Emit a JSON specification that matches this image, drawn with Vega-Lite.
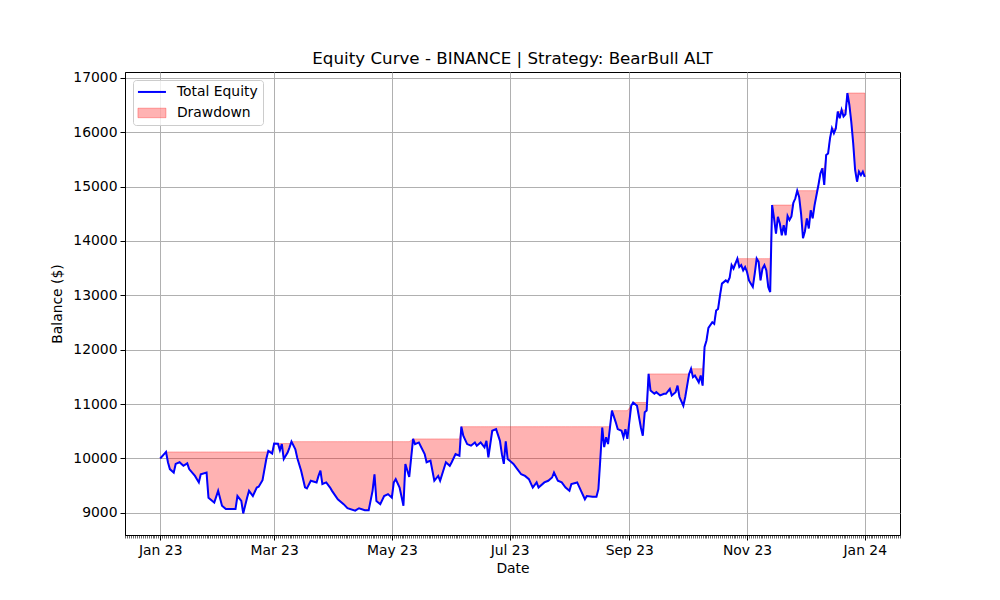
{
  "$schema": "https://vega.github.io/schema/vega-lite/v6.json",
  "width": 775, "height": 463,
  "autosize": {"type": "none"},
  "padding": {"left": 125, "top": 72, "right": 100, "bottom": 65},
  "background": "white",
  "title": {"text": "Equity Curve - BINANCE | Strategy: BearBull ALT", "font": "DejaVu Sans", "fontSize": 16.7, "fontWeight": "normal", "color": "black", "offset": 3},
  "config": {
    "view": {"stroke": "black", "strokeWidth": 1},
    "font": "DejaVu Sans",
    "axis": {
      "labelFont": "DejaVu Sans", "labelFontSize": 13.9, "labelColor": "black",
      "titleFont": "DejaVu Sans", "titleFontSize": 13.9, "titleFontWeight": "normal", "titleColor": "black",
      "tickColor": "black", "tickSize": 5, "tickWidth": 1, "domainColor": "black",
      "gridColor": "#b0b0b0", "gridWidth": 1, "gridOpacity": 1, "labelPadding": 3
    },
    "legend": {
      "orient": "top-left", "offset": 8, "padding": 5, "cornerRadius": 3,
      "strokeColor": "#cccccc", "fillColor": "rgba(255,255,255,0.8)",
      "labelFont": "DejaVu Sans", "labelFontSize": 13.9, "labelColor": "black",
      "symbolSize": 784, "labelOffset": 25, "rowPadding": 6
    }
  },
  "data": {
    "format": {"parse": {"date": "date:'%Y-%m-%d'"}},
    "values": [
      {"date": "2023-01-01", "equity": 10000}, {"date": "2023-01-03", "equity": 10080}, {"date": "2023-01-04", "equity": 10120},
      {"date": "2023-01-05", "equity": 9930}, {"date": "2023-01-06", "equity": 9805}, {"date": "2023-01-08", "equity": 9740},
      {"date": "2023-01-09", "equity": 9900}, {"date": "2023-01-11", "equity": 9930}, {"date": "2023-01-13", "equity": 9865},
      {"date": "2023-01-15", "equity": 9910}, {"date": "2023-01-16", "equity": 9805}, {"date": "2023-01-19", "equity": 9680},
      {"date": "2023-01-21", "equity": 9560}, {"date": "2023-01-22", "equity": 9710}, {"date": "2023-01-25", "equity": 9740},
      {"date": "2023-01-26", "equity": 9280}, {"date": "2023-01-28", "equity": 9220}, {"date": "2023-01-29", "equity": 9190},
      {"date": "2023-01-31", "equity": 9405}, {"date": "2023-02-02", "equity": 9130}, {"date": "2023-02-04", "equity": 9070},
      {"date": "2023-02-07", "equity": 9070}, {"date": "2023-02-09", "equity": 9070}, {"date": "2023-02-10", "equity": 9310},
      {"date": "2023-02-12", "equity": 9220}, {"date": "2023-02-13", "equity": 8990}, {"date": "2023-02-15", "equity": 9280},
      {"date": "2023-02-16", "equity": 9405}, {"date": "2023-02-18", "equity": 9310}, {"date": "2023-02-20", "equity": 9465},
      {"date": "2023-02-21", "equity": 9480}, {"date": "2023-02-23", "equity": 9600}, {"date": "2023-02-25", "equity": 10000},
      {"date": "2023-02-26", "equity": 10140}, {"date": "2023-02-28", "equity": 10090}, {"date": "2023-03-01", "equity": 10275},
      {"date": "2023-03-03", "equity": 10270}, {"date": "2023-03-04", "equity": 10150}, {"date": "2023-03-05", "equity": 10265},
      {"date": "2023-03-06", "equity": 9990}, {"date": "2023-03-08", "equity": 10110}, {"date": "2023-03-09", "equity": 10205},
      {"date": "2023-03-10", "equity": 10310}, {"date": "2023-03-12", "equity": 10170}, {"date": "2023-03-13", "equity": 10010},
      {"date": "2023-03-15", "equity": 9775}, {"date": "2023-03-17", "equity": 9470}, {"date": "2023-03-18", "equity": 9450},
      {"date": "2023-03-20", "equity": 9590}, {"date": "2023-03-23", "equity": 9560}, {"date": "2023-03-24", "equity": 9680},
      {"date": "2023-03-25", "equity": 9775}, {"date": "2023-03-26", "equity": 9530}, {"date": "2023-03-28", "equity": 9560},
      {"date": "2023-03-30", "equity": 9465}, {"date": "2023-03-31", "equity": 9405}, {"date": "2023-04-03", "equity": 9250},
      {"date": "2023-04-06", "equity": 9160}, {"date": "2023-04-08", "equity": 9085}, {"date": "2023-04-12", "equity": 9040},
      {"date": "2023-04-14", "equity": 9085}, {"date": "2023-04-17", "equity": 9050}, {"date": "2023-04-19", "equity": 9050},
      {"date": "2023-04-21", "equity": 9405}, {"date": "2023-04-22", "equity": 9710}, {"date": "2023-04-23", "equity": 9220},
      {"date": "2023-04-25", "equity": 9160}, {"date": "2023-04-27", "equity": 9310}, {"date": "2023-04-29", "equity": 9345},
      {"date": "2023-05-01", "equity": 9280}, {"date": "2023-05-02", "equity": 9560}, {"date": "2023-05-03", "equity": 9620},
      {"date": "2023-05-05", "equity": 9465}, {"date": "2023-05-07", "equity": 9130}, {"date": "2023-05-08", "equity": 9900},
      {"date": "2023-05-10", "equity": 9660}, {"date": "2023-05-12", "equity": 10360}, {"date": "2023-05-13", "equity": 10265},
      {"date": "2023-05-15", "equity": 10295}, {"date": "2023-05-18", "equity": 10080}, {"date": "2023-05-19", "equity": 9930},
      {"date": "2023-05-21", "equity": 9960}, {"date": "2023-05-23", "equity": 9590}, {"date": "2023-05-25", "equity": 9680},
      {"date": "2023-05-26", "equity": 9590}, {"date": "2023-05-29", "equity": 9930}, {"date": "2023-05-31", "equity": 9865},
      {"date": "2023-06-01", "equity": 9930}, {"date": "2023-06-03", "equity": 10080}, {"date": "2023-06-05", "equity": 10050},
      {"date": "2023-06-06", "equity": 10585}, {"date": "2023-06-07", "equity": 10420}, {"date": "2023-06-09", "equity": 10265},
      {"date": "2023-06-11", "equity": 10235}, {"date": "2023-06-13", "equity": 10295}, {"date": "2023-06-14", "equity": 10235},
      {"date": "2023-06-16", "equity": 10295}, {"date": "2023-06-18", "equity": 10205}, {"date": "2023-06-19", "equity": 10325},
      {"date": "2023-06-20", "equity": 10020}, {"date": "2023-06-22", "equity": 10510}, {"date": "2023-06-24", "equity": 10540},
      {"date": "2023-06-26", "equity": 10325}, {"date": "2023-06-27", "equity": 10080}, {"date": "2023-06-28", "equity": 9900},
      {"date": "2023-06-29", "equity": 10315}, {"date": "2023-06-30", "equity": 9990}, {"date": "2023-07-02", "equity": 9930},
      {"date": "2023-07-03", "equity": 9900}, {"date": "2023-07-05", "equity": 9805}, {"date": "2023-07-07", "equity": 9710},
      {"date": "2023-07-09", "equity": 9680}, {"date": "2023-07-11", "equity": 9620}, {"date": "2023-07-13", "equity": 9465},
      {"date": "2023-07-15", "equity": 9560}, {"date": "2023-07-16", "equity": 9465}, {"date": "2023-07-19", "equity": 9560},
      {"date": "2023-07-21", "equity": 9590}, {"date": "2023-07-23", "equity": 9650}, {"date": "2023-07-24", "equity": 9740},
      {"date": "2023-07-26", "equity": 9590}, {"date": "2023-07-28", "equity": 9560}, {"date": "2023-07-30", "equity": 9465},
      {"date": "2023-08-01", "equity": 9405}, {"date": "2023-08-02", "equity": 9530}, {"date": "2023-08-05", "equity": 9560},
      {"date": "2023-08-07", "equity": 9405}, {"date": "2023-08-09", "equity": 9250}, {"date": "2023-08-10", "equity": 9310},
      {"date": "2023-08-13", "equity": 9295}, {"date": "2023-08-15", "equity": 9295}, {"date": "2023-08-16", "equity": 9435},
      {"date": "2023-08-17", "equity": 9990}, {"date": "2023-08-18", "equity": 10570}, {"date": "2023-08-19", "equity": 10210},
      {"date": "2023-08-20", "equity": 10390}, {"date": "2023-08-21", "equity": 10265}, {"date": "2023-08-22", "equity": 10570},
      {"date": "2023-08-23", "equity": 10880}, {"date": "2023-08-25", "equity": 10665}, {"date": "2023-08-26", "equity": 10540},
      {"date": "2023-08-28", "equity": 10510}, {"date": "2023-08-29", "equity": 10390}, {"date": "2023-08-30", "equity": 10540},
      {"date": "2023-08-31", "equity": 10360}, {"date": "2023-09-02", "equity": 10970}, {"date": "2023-09-03", "equity": 11030},
      {"date": "2023-09-05", "equity": 10970}, {"date": "2023-09-07", "equity": 10570}, {"date": "2023-09-08", "equity": 10420},
      {"date": "2023-09-09", "equity": 10850}, {"date": "2023-09-10", "equity": 10880}, {"date": "2023-09-11", "equity": 11555},
      {"date": "2023-09-12", "equity": 11250}, {"date": "2023-09-14", "equity": 11190}, {"date": "2023-09-15", "equity": 11220},
      {"date": "2023-09-17", "equity": 11160}, {"date": "2023-09-19", "equity": 11190}, {"date": "2023-09-20", "equity": 11190},
      {"date": "2023-09-22", "equity": 11280}, {"date": "2023-09-23", "equity": 11160}, {"date": "2023-09-25", "equity": 11220},
      {"date": "2023-09-26", "equity": 11340}, {"date": "2023-09-27", "equity": 11130}, {"date": "2023-09-29", "equity": 10970},
      {"date": "2023-09-30", "equity": 11130}, {"date": "2023-10-02", "equity": 11555}, {"date": "2023-10-03", "equity": 11650},
      {"date": "2023-10-04", "equity": 11495}, {"date": "2023-10-05", "equity": 11525}, {"date": "2023-10-07", "equity": 11400},
      {"date": "2023-10-08", "equity": 11525}, {"date": "2023-10-09", "equity": 11340}, {"date": "2023-10-10", "equity": 12050},
      {"date": "2023-10-11", "equity": 12170}, {"date": "2023-10-12", "equity": 12400}, {"date": "2023-10-14", "equity": 12505},
      {"date": "2023-10-15", "equity": 12475}, {"date": "2023-10-16", "equity": 12720}, {"date": "2023-10-17", "equity": 12750},
      {"date": "2023-10-18", "equity": 13000}, {"date": "2023-10-19", "equity": 13215}, {"date": "2023-10-21", "equity": 13275},
      {"date": "2023-10-22", "equity": 13245}, {"date": "2023-10-23", "equity": 13325}, {"date": "2023-10-24", "equity": 13555},
      {"date": "2023-10-25", "equity": 13490}, {"date": "2023-10-27", "equity": 13675}, {"date": "2023-10-28", "equity": 13520},
      {"date": "2023-10-29", "equity": 13555}, {"date": "2023-10-30", "equity": 13460}, {"date": "2023-10-31", "equity": 13520},
      {"date": "2023-11-01", "equity": 13430}, {"date": "2023-11-02", "equity": 13275}, {"date": "2023-11-03", "equity": 13215},
      {"date": "2023-11-04", "equity": 13155}, {"date": "2023-11-05", "equity": 13400}, {"date": "2023-11-06", "equity": 13675},
      {"date": "2023-11-07", "equity": 13615}, {"date": "2023-11-08", "equity": 13275}, {"date": "2023-11-09", "equity": 13490},
      {"date": "2023-11-10", "equity": 13555}, {"date": "2023-11-11", "equity": 13460}, {"date": "2023-11-12", "equity": 13155},
      {"date": "2023-11-13", "equity": 13060}, {"date": "2023-11-14", "equity": 14660}, {"date": "2023-11-15", "equity": 14415},
      {"date": "2023-11-16", "equity": 14135}, {"date": "2023-11-17", "equity": 14445}, {"date": "2023-11-18", "equity": 14320},
      {"date": "2023-11-19", "equity": 14105}, {"date": "2023-11-20", "equity": 14290}, {"date": "2023-11-21", "equity": 14105},
      {"date": "2023-11-22", "equity": 14460}, {"date": "2023-11-23", "equity": 14385}, {"date": "2023-11-24", "equity": 14450},
      {"date": "2023-11-25", "equity": 14700}, {"date": "2023-11-26", "equity": 14780}, {"date": "2023-11-27", "equity": 14925},
      {"date": "2023-11-28", "equity": 14810}, {"date": "2023-11-29", "equity": 14500}, {"date": "2023-11-30", "equity": 14050},
      {"date": "2023-12-01", "equity": 14180}, {"date": "2023-12-02", "equity": 14415}, {"date": "2023-12-03", "equity": 14230},
      {"date": "2023-12-04", "equity": 14565}, {"date": "2023-12-05", "equity": 14415}, {"date": "2023-12-06", "equity": 14660},
      {"date": "2023-12-07", "equity": 14845}, {"date": "2023-12-08", "equity": 15030}, {"date": "2023-12-09", "equity": 15240},
      {"date": "2023-12-10", "equity": 15335}, {"date": "2023-12-11", "equity": 15030}, {"date": "2023-12-12", "equity": 15580},
      {"date": "2023-12-13", "equity": 15610}, {"date": "2023-12-14", "equity": 15890}, {"date": "2023-12-15", "equity": 16070},
      {"date": "2023-12-16", "equity": 15980}, {"date": "2023-12-17", "equity": 16070}, {"date": "2023-12-18", "equity": 16380},
      {"date": "2023-12-19", "equity": 16255}, {"date": "2023-12-20", "equity": 16410}, {"date": "2023-12-21", "equity": 16290},
      {"date": "2023-12-22", "equity": 16330}, {"date": "2023-12-23", "equity": 16720}, {"date": "2023-12-24", "equity": 16505},
      {"date": "2023-12-25", "equity": 16195}, {"date": "2023-12-26", "equity": 15800}, {"date": "2023-12-27", "equity": 15305},
      {"date": "2023-12-28", "equity": 15090}, {"date": "2023-12-29", "equity": 15275}, {"date": "2023-12-30", "equity": 15210},
      {"date": "2023-12-31", "equity": 15275}, {"date": "2024-01-01", "equity": 15180}
    ]
  },
  "transform": [
    {"window": [{"op": "max", "field": "equity", "as": "peak"}], "sort": [{"field": "date"}], "frame": [null, 0]}
  ],
  "resolve": {"axis": {"x": "independent"}},
  "layer": [
    {
      "mark": {"type": "area", "fillOpacity": 0.3, "stroke": "red", "strokeOpacity": 0.3, "strokeWidth": 1},
      "encoding": {
        "x": {
          "field": "date", "type": "temporal",
          "scale": {"domain": [{"year": 2022, "month": 12, "date": 13, "hours": 18}, {"year": 2024, "month": 1, "date": 19, "hours": 6}]},
          "axis": {"title": "Date", "format": "%b %y", "tickCount": {"interval": "month", "step": 2}, "grid": true, "labelFlush": false, "titlePadding": 5}
        },
        "y": {
          "field": "equity", "type": "quantitative",
          "scale": {"domain": [8593, 17107], "nice": false, "zero": false},
          "axis": {"title": "Balance ($)", "values": [9000, 10000, 11000, 12000, 13000, 14000, 15000, 16000, 17000], "format": "d", "grid": true, "titlePadding": 8}
        },
        "y2": {"field": "peak"},
        "color": {
          "datum": "Drawdown",
          "scale": {"domain": ["Total Equity", "Drawdown"], "range": ["blue", "red"]},
          "legend": {
            "title": null, "symbolSize": 784, "labelOffset": 25, "rowPadding": 6, "offset": 8, "padding": 5,
            "encode": {
              "symbols": {
                "update": {
                  "shape": {"signal": "datum.value === 'Total Equity' ? 'M-0.5,0H1.5' : 'M-0.5,-0.34H1.5V0.34H-0.5Z'"},
                  "size": {"value": 784},
                  "fill": {"signal": "datum.value === 'Total Equity' ? 'transparent' : 'red'"},
                  "fillOpacity": {"value": 0.3},
                  "stroke": {"signal": "datum.value === 'Total Equity' ? 'blue' : 'red'"},
                  "strokeOpacity": {"signal": "datum.value === 'Total Equity' ? 1 : 0.3"},
                  "strokeWidth": {"signal": "datum.value === 'Total Equity' ? 2 : 1"},
                  "opacity": {"value": 1}
                }
              }
            }
          }
        }
      }
    },
    {
      "mark": {"type": "line", "strokeWidth": 2},
      "encoding": {
        "x": {
          "field": "date", "type": "temporal",
          "axis": {"title": null, "labels": false, "grid": false, "domain": false, "tickCount": {"interval": "day", "step": 1}, "tickSize": 3, "tickWidth": 0.6, "orient": "bottom"}
        },
        "y": {"field": "equity", "type": "quantitative"},
        "color": {
          "datum": "Total Equity",
          "legend": {
            "title": null, "symbolSize": 784, "labelOffset": 25, "rowPadding": 6, "offset": 8, "padding": 5,
            "encode": {
              "symbols": {
                "update": {
                  "shape": {"signal": "datum.value === 'Total Equity' ? 'M-0.5,0H1.5' : 'M-0.5,-0.34H1.5V0.34H-0.5Z'"},
                  "size": {"value": 784},
                  "fill": {"signal": "datum.value === 'Total Equity' ? 'transparent' : 'red'"},
                  "fillOpacity": {"value": 0.3},
                  "stroke": {"signal": "datum.value === 'Total Equity' ? 'blue' : 'red'"},
                  "strokeOpacity": {"signal": "datum.value === 'Total Equity' ? 1 : 0.3"},
                  "strokeWidth": {"signal": "datum.value === 'Total Equity' ? 2 : 1"},
                  "opacity": {"value": 1}
                }
              }
            }
          }
        }
      }
    }
  ]
}
